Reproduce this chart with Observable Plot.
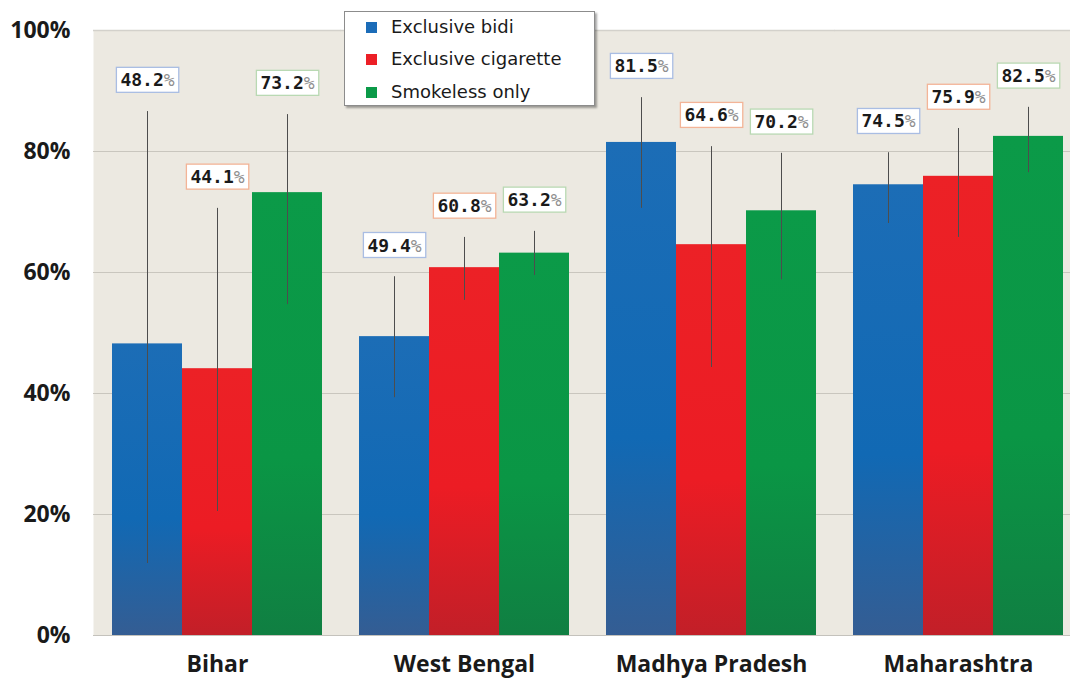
<!DOCTYPE html>
<html>
<head>
<meta charset="utf-8">
<script src="https://cdn.jsdelivr.net/npm/d3@7"></script>
<script src="https://cdn.jsdelivr.net/npm/@observablehq/plot@0.6"></script>
<style>
  body { margin: 0; background: #ffffff; }
  #wrap { position: relative; width: 1070px; height: 678px; overflow: hidden; background: #ffffff; }
  #legend {
    position: absolute; left: 344px; top: 11px; width: 249px; height: 93px;
    background: #ffffff; border: 1px solid #8c8c8c;
    box-shadow: 2px 2px 2px rgba(0,0,0,0.35);
    font-family: "DejaVu Sans", sans-serif; font-size: 18px; color: #1a1a1a;
  }
  #legend .row { position: absolute; left: 21px; height: 24px; line-height: 24px; white-space: nowrap; }
  #legend .sw { display: inline-block; width: 11px; height: 11px; margin-right: 14px; vertical-align: 0px; }
</style>
</head>
<body>
<div id="wrap">
  <div id="chart"></div>
  <div id="legend"></div>
</div>
<script>
// ---- data ----
const states = ["Bihar", "West Bengal", "Madhya Pradesh", "Maharashtra"];
const seriesNames = ["Exclusive bidi", "Exclusive cigarette", "Smokeless only"];
const bidi      = [48.2, 49.4, 81.5, 74.5];
const cigarette = [44.1, 60.8, 64.6, 75.9];
const smokeless = [73.2, 63.2, 70.2, 82.5];
const bidiLow  = [11.9, 39.3, 70.6, 68.1];
const bidiHigh = [86.6, 59.3, 88.9, 79.8];
const cigLow   = [20.5, 55.4, 44.3, 65.8];
const cigHigh  = [70.6, 65.8, 80.8, 83.8];
const smkLow   = [54.7, 59.5, 58.8, 76.5];
const smkHigh  = [86.1, 66.8, 79.7, 87.3];
const yTicks = [0, 20, 40, 60, 80, 100];

const swatch = ["#1b6cb8", "#ec1f26", "#0b9a48"];
const gradIds = ["gBlue", "gRed", "gGreen"];
const gradStops = [
  ["#1c6db6", "#1169b4", "#345d93"],
  ["#ec2126", "#ec1c24", "#c21f28"],
  ["#0b9a48", "#0a9645", "#107f42"]
];
const labelBorder = ["#a9bde3", "#f3b497", "#b9d9b3"];

const valuesBySeries = [bidi, cigarette, smokeless];
const lowBySeries = [bidiLow, cigLow, smkLow];
const highBySeries = [bidiHigh, cigHigh, smkHigh];

const rows = [];
states.forEach((st, i) => {
  seriesNames.forEach((s, j) => {
    rows.push({state: st, series: s, k: j, value: valuesBySeries[j][i], low: lowBySeries[j][i], high: highBySeries[j][i]});
  });
});

const labelMarks = seriesNames.map((s, j) =>
  Plot.text(rows.filter(d => d.k === j), {
    fx: "state", x: "series", y: "high",
    text: d => d.value.toFixed(1),
    dy: -31,
    fontFamily: "DejaVu Sans Mono",
    fontWeight: "bold",
    fontSize: 18,
    fill: "#1a1a1a",
    ariaDescription: "lbl" + j
  })
);

const gapL = -19;   // extend background/grid into the gap between state groups
const gapR = -18.5;

const plot = Plot.plot({
  width: 1070,
  height: 678,
  marginTop: 30,
  marginBottom: 43,
  marginLeft: 93,
  marginRight: 7,
  style: {fontFamily: "Open Sans", background: "transparent", overflow: "visible"},
  fx: {domain: states, paddingInner: 0.15, paddingOuter: 0.035, align: 1, label: null},
  x: {domain: seriesNames, padding: 0, axis: null},
  y: {domain: [0, 100], axis: null},
  color: {domain: seriesNames, range: gradIds.map(id => `url(#${id})`)},
  marks: [
    Plot.frame({fill: "#ece9e1", stroke: null, insetLeft: gapL, insetRight: gapR}),
    Plot.ruleY(yTicks.filter(t => t > 0 && t < 100), {stroke: "#c9c6be", strokeWidth: 1, insetLeft: gapL, insetRight: gapR}),
    Plot.ruleY([100], {stroke: "#d3d1cb", strokeWidth: 1.5, insetLeft: gapL, insetRight: gapR}),
    Plot.barY(rows, {fx: "state", x: "series", y: "value", fill: "series"}),
    Plot.ruleX(rows, {fx: "state", x: "series", y1: "low", y2: "high", stroke: "#4d4d4d", strokeWidth: 1}),
    ...labelMarks,
    Plot.ruleY([0], {stroke: "#c4c2bc", insetLeft: gapL, insetRight: gapR}),
    Plot.axisY(yTicks, {tickSize: 0, tickPadding: 42, tickFormat: d => d + "%", fontSize: 23, fontWeight: "bold", fill: "#1a1a1a"}),
    Plot.axisFx({anchor: "bottom", tickSize: 0, tickPadding: 20, fontSize: 23, fontWeight: "bold", fill: "#1a1a1a", label: null})
  ]
});

document.getElementById("chart").appendChild(plot);

// gradients
const svg = d3.select(plot);
const defs = svg.insert("defs", ":first-child");
gradIds.forEach((id, j) => {
  const g = defs.append("linearGradient").attr("id", id).attr("x1", 0).attr("y1", 0).attr("x2", 0).attr("y2", 1);
  g.append("stop").attr("offset", "0").attr("stop-color", gradStops[j][0]);
  g.append("stop").attr("offset", "0.6").attr("stop-color", gradStops[j][1]);
  g.append("stop").attr("offset", "1").attr("stop-color", gradStops[j][2]);
});

// value label boxes with lighter %
seriesNames.forEach((s, j) => {
  svg.selectAll(`g[aria-description="lbl${j}"] text`).each(function () {
    const t = d3.select(this);
    const str = t.text();
    t.text(str);
    t.append("tspan").attr("fill", "#8e8e8e").attr("font-weight", "normal").text("%");
    const bb = this.getBBox();
    d3.select(this.parentNode).insert("rect", () => this)
      .attr("x", bb.x - 4).attr("y", bb.y - 2)
      .attr("width", bb.width + 8).attr("height", bb.height + 4)
      .attr("fill", "#ffffff").attr("stroke", labelBorder[j]).attr("stroke-width", 1.3)
      .attr("transform", t.attr("transform"));
  });
});

// legend
const legend = document.getElementById("legend");
const rowTops = [3, 35, 68];
seriesNames.forEach((s, j) => {
  const r = document.createElement("div");
  r.className = "row";
  r.style.top = rowTops[j] + "px";
  r.innerHTML = `<span class="sw" style="background:${swatch[j]}"></span>${s}`;
  legend.appendChild(r);
});
</script>
</body>
</html>
